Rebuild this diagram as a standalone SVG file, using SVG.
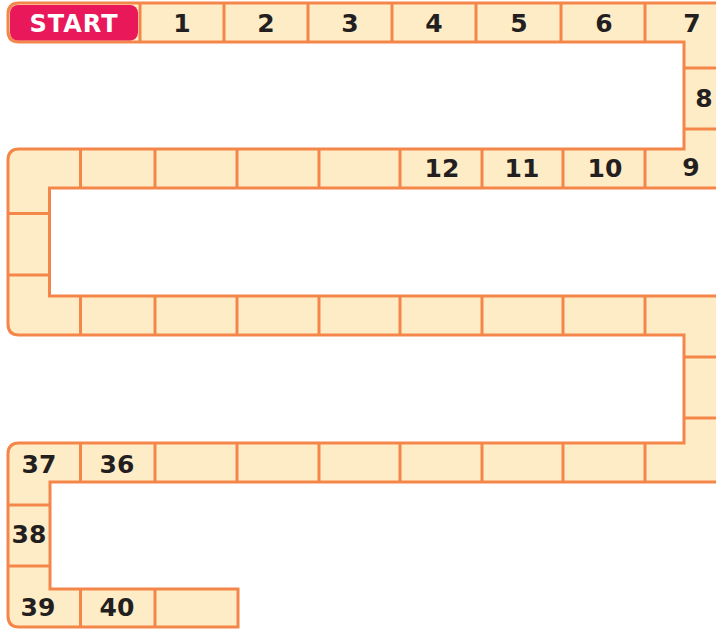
<svg xmlns="http://www.w3.org/2000/svg" width="716" height="633" viewBox="0 0 716 633">
<style>
.board{fill:#FEECC7;stroke:#F5864A;stroke-width:3;stroke-linejoin:miter}
.div{stroke:#F5864A;stroke-width:3;fill:none}
.num{font-family:"DejaVu Sans",sans-serif;font-weight:bold;font-size:25px;fill:#231F20;text-anchor:middle}
.start{font-family:"DejaVu Sans",sans-serif;font-weight:bold;font-size:24px;fill:#FFFFFF;text-anchor:middle;letter-spacing:1px}
</style>
<rect width="716" height="633" fill="#FFFFFF"/>
<g id="board">
<path class="board" d="M19,3 H720 V188 H49.5 V296 H720 V482 H50 V589 H238 V627 H19 Q8,627 8,616 V454 Q8,443 19,443 H684 V335 H19 Q8,335 8,324 V160 Q8,149 19,149 H684 V42 H19 Q8,42 8,31 V14 Q8,3 19,3 Z"/>
</g>
<g id="connectors">
<path class="div" d="M140,3V42 M224,3V42 M308,3V42 M392,3V42 M476,3V42 M561,3V42 M645,3V42"/>
<path class="div" d="M684,68H716 M684,129H716"/>
<path class="div" d="M80.5,149V188 M155,149V188 M237,149V188 M319,149V188 M400,149V188 M482,149V188 M563,149V188 M645,149V188"/>
<path class="div" d="M8,213.5H49.5 M8,275H49.5"/>
<path class="div" d="M80.5,296V335 M155,296V335 M237,296V335 M319,296V335 M400,296V335 M482,296V335 M563,296V335 M645,296V335"/>
<path class="div" d="M684,357H716 M684,418H716"/>
<path class="div" d="M80.5,443V482 M155,443V482 M237,443V482 M319,443V482 M400,443V482 M482,443V482 M563,443V482 M645,443V482"/>
<path class="div" d="M8,505H50 M8,566H50"/>
<path class="div" d="M80.5,589V627 M155,589V627"/>
</g>
<g id="start">
<rect x="10" y="5" width="128" height="35.5" rx="8" fill="#E8185A"/>
<text class="start" x="74" y="32">START</text>
</g>
<g id="labels">
<text class="num" x="182" y="32">1</text>
<text class="num" x="266" y="32">2</text>
<text class="num" x="350" y="32">3</text>
<text class="num" x="434" y="32">4</text>
<text class="num" x="519" y="32">5</text>
<text class="num" x="604" y="32">6</text>
<text class="num" x="692" y="32">7</text>
<text class="num" x="704" y="107">8</text>
<text class="num" x="691" y="176">9</text>
<text class="num" x="605" y="177">10</text>
<text class="num" x="522" y="177">11</text>
<text class="num" x="442" y="177">12</text>
<text class="num" x="39" y="473">37</text>
<text class="num" x="117" y="473">36</text>
<text class="num" x="29" y="543">38</text>
<text class="num" x="38" y="616">39</text>
<text class="num" x="117" y="616">40</text>
</g>
</svg>
